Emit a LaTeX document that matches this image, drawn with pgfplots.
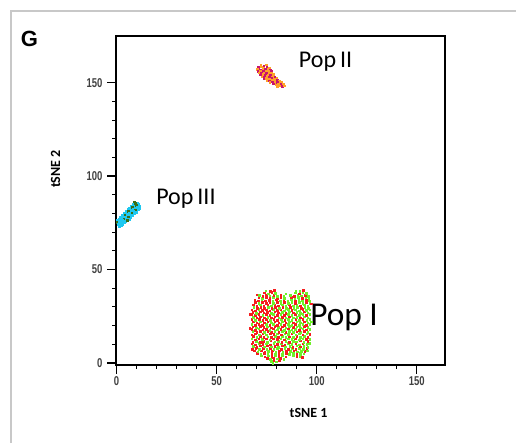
\documentclass[border=0pt]{standalone}
\usepackage{pgfplots}
\pgfplotsset{compat=1.18}
\usepackage{fontspec}
\setmainfont{Liberation Sans}
\newfontfamily\calib{Carlito}
\newfontfamily\tickfont[FakeStretch=0.74]{Liberation Sans}
\definecolor{cR}{RGB}{245,30,30}
\definecolor{cG}{RGB}{110,240,40}
\definecolor{cO}{RGB}{255,160,40}
\definecolor{cM}{RGB}{200,20,110}
\definecolor{cC}{RGB}{30,200,240}
\definecolor{cD}{RGB}{60,110,20}
\definecolor{framegray}{RGB}{200,200,200}

\pgfplotstableread[row sep=\\]{
x y c\\
77.4 0.9 g\\ 78.6 1.4 r\\ 79.9 0.6 g\\ 81.3 1.1 r\\
75.3 2.4 r\\ 76.9 1.9 g\\ 78.4 2.6 r\\ 80.2 2.1 g\\ 81.8 2.5 r\\ 83.5 2.0 g\\
72.4 3.7 g\\ 74.1 3.2 r\\ 75.8 3.8 g\\ 77.6 3.3 r\\ 79.3 3.9 g\\ 81.1 3.4 r\\ 82.8 3.7 g\\ 84.6 3.2 r\\ 88.3 3.8 g\\ 90.1 3.3 r\\ 91.9 3.6 g\\
70.3 4.9 r\\ 72.0 4.5 g\\ 73.9 5.1 r\\ 75.6 4.6 g\\ 77.5 5.0 r\\ 79.2 4.4 g\\ 81.0 5.2 r\\ 82.9 4.7 g\\ 84.7 5.0 r\\ 86.4 4.5 g\\ 88.2 5.1 g\\ 90.0 4.6 r\\ 91.8 5.0 g\\ 93.6 4.7 g\\
68.8 6.3 r\\ 70.6 5.9 g\\ 72.4 6.4 r\\ 74.1 5.8 r\\ 75.9 6.2 g\\ 77.8 6.5 r\\ 79.5 5.9 g\\ 81.3 6.3 r\\ 83.1 5.8 g\\ 84.9 6.4 r\\ 86.7 6.0 g\\ 88.6 6.3 r\\ 90.4 5.8 g\\ 92.2 6.2 g\\ 94.0 6.0 r\\ 95.3 6.4 g\\
67.8 7.2 r\\ 69.5 7.7 r\\ 71.3 7.1 g\\ 73.2 7.6 r\\ 75.0 7.2 g\\ 76.8 7.8 r\\ 78.6 7.1 g\\ 80.4 7.6 g\\ 82.2 7.2 r\\ 84.1 7.7 g\\ 85.9 7.1 r\\ 87.7 7.6 g\\ 89.5 7.3 r\\ 91.4 7.8 g\\ 93.2 7.2 g\\ 95.1 7.6 r\\
68.2 8.9 g\\ 70.1 8.4 r\\ 71.7 9.0 r\\ 73.7 8.5 g\\ 75.3 9.1 r\\ 77.3 8.6 g\\ 79.0 8.9 r\\ 80.9 8.4 g\\ 82.8 9.0 r\\ 84.4 8.5 g\\ 86.5 8.8 g\\ 88.1 8.4 r\\ 90.0 9.0 g\\ 91.9 8.6 r\\ 93.6 8.9 g\\ 95.5 8.4 g\\
67.6 10.2 r\\ 69.4 9.7 r\\ 71.2 10.3 g\\ 73.0 9.8 r\\ 74.9 10.1 g\\ 76.7 9.6 r\\ 78.5 10.3 g\\ 80.3 9.8 r\\ 82.2 10.2 g\\ 84.0 9.7 r\\ 85.8 10.3 g\\ 87.6 9.8 g\\ 89.5 10.1 r\\ 91.3 9.7 g\\ 93.1 10.2 r\\ 95.0 9.8 g\\ 96.4 10.3 g\\
68.0 11.1 r\\ 69.9 11.6 g\\ 71.8 11.0 r\\ 73.4 11.5 r\\ 75.4 11.1 g\\ 77.1 11.7 r\\ 79.1 11.2 g\\ 80.8 11.6 g\\ 82.6 11.0 r\\ 84.6 11.5 g\\ 86.2 11.1 r\\ 88.2 11.6 g\\ 89.9 11.2 g\\ 91.8 11.7 r\\ 93.6 11.1 g\\ 95.5 11.5 r\\
67.5 12.8 g\\ 69.3 12.3 r\\ 71.1 12.9 r\\ 72.9 12.4 g\\ 74.8 12.8 r\\ 76.6 12.3 g\\ 78.4 12.9 r\\ 80.2 12.4 r\\ 82.1 12.8 g\\ 83.9 12.3 r\\ 85.7 12.9 g\\ 87.5 12.5 g\\ 89.4 12.8 r\\ 91.2 12.3 g\\ 93.0 12.9 g\\ 94.8 12.4 r\\ 96.5 12.7 g\\
68.3 14.1 r\\ 70.0 13.6 g\\ 71.9 14.2 r\\ 73.6 13.7 r\\ 75.6 14.0 g\\ 77.3 13.5 r\\ 79.2 14.1 g\\ 80.9 13.6 r\\ 82.9 14.2 g\\ 84.6 13.7 g\\ 86.4 14.0 r\\ 88.3 13.5 g\\ 90.1 14.1 r\\ 91.9 13.7 g\\ 93.8 14.2 g\\ 95.6 13.6 r\\
67.6 15.0 r\\ 69.4 15.5 r\\ 71.2 15.0 g\\ 73.0 15.4 r\\ 74.9 14.9 g\\ 76.7 15.5 r\\ 78.5 15.1 r\\ 80.3 15.6 g\\ 82.2 15.0 r\\ 84.0 15.5 g\\ 85.8 15.1 g\\ 87.6 15.6 r\\ 89.5 15.0 g\\ 91.3 15.4 g\\ 93.1 15.0 r\\ 95.0 15.5 g\\ 96.5 15.1 r\\
68.1 16.7 g\\ 70.0 16.2 r\\ 71.8 16.8 r\\ 73.7 16.3 g\\ 75.5 16.7 r\\ 77.3 16.2 r\\ 79.1 16.8 g\\ 81.0 16.3 r\\ 82.8 16.7 g\\ 84.6 16.2 r\\ 86.4 16.8 g\\ 88.3 16.3 g\\ 90.1 16.6 r\\ 91.9 16.2 g\\ 93.7 16.8 r\\ 95.6 16.3 g\\
67.5 18.0 r\\ 69.3 17.5 r\\ 71.1 18.1 g\\ 73.0 17.6 r\\ 74.8 18.0 r\\ 76.6 17.5 g\\ 78.4 18.1 r\\ 80.3 17.6 g\\ 82.1 18.0 r\\ 83.9 17.5 g\\ 85.7 18.1 r\\ 87.6 17.6 g\\ 89.4 18.0 g\\ 91.2 17.5 r\\ 93.0 18.1 g\\ 94.9 17.6 r\\ 96.5 18.0 g\\
68.1 19.3 r\\ 69.9 18.8 g\\ 71.8 19.4 r\\ 73.6 18.9 r\\ 75.4 19.3 g\\ 77.2 18.8 r\\ 79.1 19.4 r\\ 80.9 18.9 g\\ 82.7 19.3 r\\ 84.5 18.8 g\\ 86.4 19.4 g\\ 88.2 18.9 r\\ 90.0 19.3 g\\ 91.8 18.8 g\\ 93.7 19.4 r\\ 95.5 18.9 g\\
67.5 20.6 g\\ 69.3 20.1 r\\ 71.1 20.7 r\\ 72.9 20.2 r\\ 74.8 20.6 g\\ 76.6 20.1 r\\ 78.4 20.7 g\\ 80.2 20.2 r\\ 82.1 20.6 g\\ 83.9 20.1 r\\ 85.7 20.7 g\\ 87.5 20.2 g\\ 89.4 20.6 r\\ 91.2 20.1 g\\ 93.0 20.7 g\\ 94.8 20.2 r\\ 96.5 20.6 g\\
68.2 21.9 r\\ 70.0 21.4 r\\ 71.8 22.0 g\\ 73.7 21.5 r\\ 75.5 21.9 r\\ 77.3 21.4 g\\ 79.1 22.0 r\\ 81.0 21.5 r\\ 82.8 21.9 g\\ 84.6 21.4 r\\ 86.4 22.0 g\\ 88.3 21.5 r\\ 90.1 21.9 g\\ 91.9 21.4 g\\ 93.7 22.0 r\\ 95.6 21.5 g\\
67.6 23.2 r\\ 69.4 22.7 g\\ 71.2 23.3 r\\ 73.0 22.8 r\\ 74.9 23.2 r\\ 76.7 22.7 g\\ 78.5 23.3 r\\ 80.3 22.8 r\\ 82.2 23.2 g\\ 84.0 22.7 r\\ 85.8 23.3 g\\ 87.6 22.8 g\\ 89.5 23.2 r\\ 91.3 22.7 g\\ 93.1 23.3 r\\ 95.0 22.8 g\\ 96.5 23.2 g\\
68.2 24.5 g\\ 70.0 24.0 r\\ 71.8 24.6 r\\ 73.7 24.1 r\\ 75.5 24.5 g\\ 77.3 24.0 r\\ 79.1 24.6 r\\ 81.0 24.1 g\\ 82.8 24.5 r\\ 84.6 24.0 g\\ 86.4 24.6 r\\ 88.3 24.1 g\\ 90.1 24.5 g\\ 91.9 24.0 r\\ 93.7 24.6 g\\ 95.6 24.1 g\\
67.5 25.8 r\\ 69.3 25.3 r\\ 71.1 25.9 r\\ 73.0 25.4 g\\ 74.8 25.8 r\\ 76.6 25.3 r\\ 78.4 25.9 g\\ 80.3 25.4 r\\ 82.1 25.8 g\\ 83.9 25.3 r\\ 85.7 25.9 g\\ 87.6 25.4 g\\ 89.4 25.8 r\\ 91.2 25.3 g\\ 93.0 25.9 g\\ 94.9 25.4 r\\ 96.5 25.8 g\\
68.1 27.1 r\\ 69.9 26.6 g\\ 71.8 27.2 r\\ 73.6 26.7 r\\ 75.4 27.1 r\\ 77.2 26.6 g\\ 79.1 27.2 r\\ 80.9 26.7 r\\ 82.7 27.1 g\\ 84.5 26.6 r\\ 86.4 27.2 g\\ 88.2 26.7 r\\ 90.0 27.1 g\\ 91.8 26.6 g\\ 93.7 27.2 r\\ 95.5 26.7 g\\
67.5 28.4 r\\ 69.3 27.9 r\\ 71.1 28.5 g\\ 72.9 28.0 r\\ 74.8 28.4 r\\ 76.6 27.9 r\\ 78.4 28.5 g\\ 80.2 28.0 r\\ 82.1 28.4 r\\ 83.9 27.9 g\\ 85.7 28.5 g\\ 87.5 28.0 r\\ 89.4 28.4 g\\ 91.2 27.9 g\\ 93.0 28.5 r\\ 94.8 28.0 g\\ 96.5 28.4 g\\
68.5 29.7 g\\ 70.3 29.2 r\\ 72.1 29.8 r\\ 73.9 29.3 r\\ 75.8 29.7 g\\ 77.6 29.2 r\\ 79.4 29.8 r\\ 81.2 29.3 g\\ 83.1 29.7 r\\ 84.9 29.2 g\\ 86.7 29.8 r\\ 88.5 29.3 g\\ 90.4 29.7 g\\ 92.2 29.2 r\\ 94.0 29.8 g\\ 95.9 29.3 g\\
68.2 31.0 r\\ 70.0 30.5 r\\ 71.8 31.1 g\\ 73.6 30.6 r\\ 75.5 31.0 r\\ 77.3 30.5 g\\ 79.1 31.1 r\\ 80.9 30.6 r\\ 82.8 31.0 g\\ 84.6 30.5 g\\ 86.4 31.1 r\\ 88.2 30.6 g\\ 90.1 31.0 g\\ 91.9 30.5 r\\ 93.7 31.1 g\\ 95.6 30.6 g\\
69.3 32.3 r\\ 71.1 31.8 g\\ 72.9 32.4 r\\ 74.8 31.9 r\\ 76.6 32.3 r\\ 78.4 31.8 g\\ 80.3 32.4 r\\ 82.1 31.9 g\\ 83.9 32.3 r\\ 85.8 31.8 g\\ 87.6 32.4 g\\ 89.4 31.9 r\\ 91.3 32.3 g\\ 93.1 31.8 g\\ 94.9 32.4 r\\ 96.5 31.9 g\\
69.0 33.6 r\\ 70.8 33.1 r\\ 72.6 33.7 g\\ 74.4 33.2 r\\ 76.3 33.6 r\\ 78.1 33.1 g\\ 79.9 33.7 r\\ 81.7 33.2 g\\ 83.5 33.6 r\\ 85.6 33.1 g\\ 87.4 33.7 g\\ 89.2 33.2 r\\ 91.0 33.6 g\\ 92.9 33.1 g\\ 94.7 33.7 r\\ 96.2 33.2 g\\
71.1 34.9 r\\ 72.9 34.4 g\\ 74.8 35.0 r\\ 76.6 34.5 r\\ 78.4 34.9 g\\ 80.3 34.4 r\\ 82.1 35.0 r\\ 83.8 34.5 g\\ 87.2 34.9 r\\ 89.1 34.5 g\\ 90.9 35.0 g\\ 92.8 34.4 r\\ 94.6 34.9 g\\ 96.0 34.5 g\\
71.2 36.2 g\\ 73.0 35.7 r\\ 74.8 36.3 r\\ 76.6 35.8 g\\ 78.5 36.2 r\\ 80.3 35.7 g\\ 82.1 36.3 r\\ 83.6 35.8 g\\ 86.9 36.2 g\\ 88.7 35.7 r\\ 90.5 36.3 g\\ 92.4 35.8 g\\ 94.2 36.2 r\\ 95.8 35.7 g\\
73.9 37.5 r\\ 75.8 37.0 g\\ 77.6 37.6 r\\ 79.4 37.1 g\\ 89.4 37.5 g\\ 91.2 37.0 r\\ 93.1 37.6 g\\ 94.8 37.1 g\\
74.5 38.6 g\\ 76.8 38.3 r\\ 78.8 38.7 r\\ 89.5 38.6 g\\ 91.5 38.3 g\\ 93.4 38.8 r\\
66.6 18.5 r\\ 66.5 26.0 r\\ 97.3 22.0 g\\ 97.2 31.5 r\\ 78.0 -0.3 g\\ 92.8 3.0 r\\ 84.5 37.0 g\\ 70.0 36.3 r\\
}\popI

\pgfplotstableread[row sep=\\]{
x y c\\
72.0 159.4 o\\ 73.5 159.1 m\\ 74.8 159.5 o\\
70.8 158.2 m\\ 72.2 158.5 o\\ 73.6 158.0 o\\ 75.0 158.4 m\\ 76.2 158.1 o\\
70.4 157.3 o\\ 71.7 157.0 m\\ 73.0 157.4 o\\ 74.4 157.1 m\\ 75.7 157.3 o\\ 76.9 156.9 m\\
70.6 156.1 m\\ 71.9 156.4 o\\ 73.3 156.0 m\\ 74.6 156.3 o\\ 75.9 156.0 o\\ 77.2 156.4 m\\
71.0 155.3 o\\ 72.3 155.0 m\\ 73.6 155.4 o\\ 74.9 155.1 m\\ 76.2 155.3 o\\ 77.5 155.0 o\\
71.7 154.1 m\\ 73.0 154.4 o\\ 74.3 154.0 m\\ 75.6 154.3 o\\ 76.9 154.1 m\\ 78.2 154.4 o\\
72.5 153.3 o\\ 73.8 153.0 m\\ 75.1 153.4 o\\ 76.4 153.1 m\\ 77.7 153.3 o\\ 79.0 153.0 m\\
73.6 152.1 m\\ 74.9 152.4 o\\ 76.2 152.0 o\\ 77.5 152.3 m\\ 78.8 152.1 o\\ 80.1 152.4 o\\
75.0 151.3 o\\ 76.3 151.0 m\\ 77.6 151.4 o\\ 78.9 151.1 o\\ 80.2 151.3 m\\ 81.4 151.0 o\\
76.5 150.1 o\\ 77.8 150.4 m\\ 79.1 150.0 o\\ 80.4 150.3 m\\ 81.6 150.1 o\\ 82.6 150.4 o\\
78.2 149.3 m\\ 79.5 149.0 o\\ 80.8 149.4 o\\ 82.0 149.1 m\\ 83.2 149.2 o\\
80.2 148.1 o\\ 81.5 148.4 o\\ 82.8 148.0 m\\ 83.9 148.3 o\\
}\popII

\pgfplotstableread[row sep=\\]{
x y c\\
9.0 86.0 d\\ 10.3 85.7 c\\
8.2 85.0 c\\ 9.5 85.2 d\\ 10.8 84.9 c\\
7.4 84.1 c\\ 8.7 83.8 c\\ 10.0 84.2 d\\ 11.3 83.9 c\\
6.5 83.0 c\\ 7.8 83.2 d\\ 9.1 82.9 c\\ 10.4 83.1 c\\ 11.6 82.8 c\\
5.6 82.1 c\\ 6.9 81.8 c\\ 8.2 82.2 c\\ 9.5 81.9 d\\ 10.8 82.1 c\\
4.7 81.0 c\\ 6.0 81.2 d\\ 7.3 80.9 c\\ 8.6 81.1 c\\ 9.9 80.8 c\\
3.8 80.1 c\\ 5.1 79.8 c\\ 6.4 80.2 c\\ 7.7 79.9 d\\ 9.0 80.1 c\\
2.9 79.0 c\\ 4.2 79.2 d\\ 5.5 78.9 c\\ 6.8 79.1 c\\ 8.0 78.8 c\\
2.0 78.1 c\\ 3.3 77.8 c\\ 4.6 78.2 c\\ 5.9 77.9 d\\ 7.1 78.1 c\\
1.1 77.0 c\\ 2.4 77.2 c\\ 3.7 76.9 d\\ 5.0 77.1 c\\ 6.2 76.8 c\\
0.5 76.1 c\\ 1.6 75.8 c\\ 2.9 76.2 c\\ 4.2 75.9 c\\ 5.3 76.1 d\\
0.4 75.0 d\\ 1.5 75.2 c\\ 2.7 74.9 c\\ 3.9 75.1 c\\
0.8 74.1 c\\ 2.0 73.8 c\\ 3.1 74.2 c\\
1.2 73.2 c\\ 2.4 73.4 c\\
}\popIII

\begin{document}
\begin{tikzpicture}
\path[use as bounding box] (0,0) rectangle (387pt,-332.25pt);
\draw[framegray, line width=0.9pt] (8.25pt,-332.25pt) -- (8.25pt,-8.25pt) -- (387pt,-8.25pt);
\begin{axis}[
  at={(87pt,-273.75pt)}, anchor=south west,
  scale only axis, width=246.75pt, height=246.75pt,
  xmin=-0.3, xmax=164.15, ymin=-1.23, ymax=175,
  xtick={0,50,100,150}, ytick={0,50,100,150},
  minor tick num=4,
  tick align=outside, xtick pos=bottom, ytick pos=left,
  major tick length=6.5pt, minor tick length=3pt,
  every major tick/.append style={line width=1.2pt, black},
  every minor tick/.append style={line width=0.75pt, black},
  axis line style={line width=0.9pt},
  /pgf/number format/assume math mode=true,
  tick label style={font=\tickfont\bfseries\fontsize{9.6}{11}\selectfont, text=black!75},
  yticklabel style={inner sep=0pt, xshift=-3.5pt},
  xticklabel style={inner sep=0pt, yshift=-1.7pt},
  clip=false,
  scatter/classes={
    r={mark=square*, cR},
    g={mark=square*, cG},
    o={mark=square*, cO},
    m={mark=square*, cM},
    c={mark=square*, cC},
    d={mark=square*, cD}},
]
\addplot[scatter, only marks, scatter src=explicit symbolic, mark size=0.6pt] table[meta=c] {\popI};
\addplot[scatter, only marks, scatter src=explicit symbolic, mark size=0.55pt] table[meta=c] {\popII};
\addplot[scatter, only marks, scatter src=explicit symbolic, mark size=0.7pt] table[meta=c] {\popIII};
\node[anchor=base west, inner sep=0pt, font=\calib\fontsize{18}{20}\selectfont] at (axis cs:91,158) {Pop\,II};
\node[anchor=base west, inner sep=0pt, font=\calib\fontsize{18}{20}\selectfont] at (axis cs:19.7,84.5) {Pop\,III};
\node[anchor=base west, inner sep=0pt, font=\calib\fontsize{25}{28}\selectfont] at (axis cs:96.7,20) {Pop I};
\end{axis}
\node[anchor=base, inner sep=0pt, font=\calib\bfseries\fontsize{10.5}{12}\selectfont] at (231.4pt,-313.3pt) {tSNE 1};
\node[rotate=90, inner sep=0pt, font=\calib\bfseries\fontsize{10.5}{12}\selectfont] at (41.6pt,-126.75pt) {tSNE 2};
\node[anchor=base west, inner sep=0pt, font=\bfseries\fontsize{16.5}{18}\selectfont] at (15.5pt,-35pt) {G};
\end{tikzpicture}
\end{document}
